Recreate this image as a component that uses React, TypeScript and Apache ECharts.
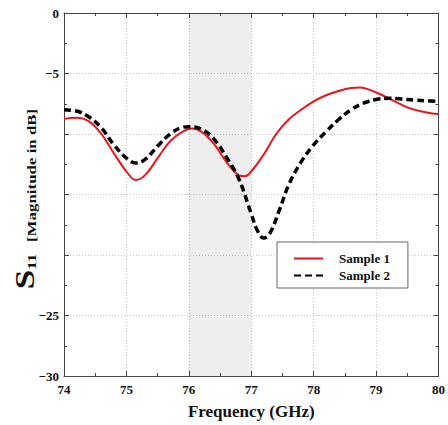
import React, { useEffect, useRef } from "react";
import * as echarts from "echarts";

const freq1 = [74.0, 74.2, 74.4, 74.6, 74.8, 75.0, 75.15, 75.3, 75.5, 75.7, 75.9, 76.05, 76.2, 76.4, 76.6, 76.8, 76.9, 77.0, 77.2, 77.4, 77.6, 77.8, 78.0, 78.2, 78.4, 78.6, 78.75, 78.9, 79.1, 79.3, 79.5, 79.7, 79.9, 80.0];
const sample1 = [-8.75, -8.65, -8.95, -10.0, -11.6, -13.1, -13.8, -13.4, -12.0, -10.6, -9.8, -9.55, -9.8, -10.8, -12.3, -13.4, -13.5, -13.1, -11.7, -10.0, -8.8, -8.0, -7.3, -6.8, -6.45, -6.2, -6.15, -6.35, -6.8, -7.3, -7.8, -8.1, -8.3, -8.35];

const freq2 = [74.0, 74.2, 74.4, 74.6, 74.8, 75.0, 75.15, 75.3, 75.5, 75.7, 75.9, 76.0, 76.2, 76.4, 76.6, 76.8, 77.0, 77.1, 77.2, 77.3, 77.45, 77.6, 77.8, 78.0, 78.2, 78.4, 78.6, 78.8, 79.0, 79.2, 79.4, 79.6, 79.8, 80.0];
const sample2 = [-8.0, -8.1, -8.6, -9.5, -10.9, -12.0, -12.4, -12.1, -11.0, -10.0, -9.45, -9.4, -9.6, -10.4, -11.9, -13.7, -16.6, -18.0, -18.6, -18.2, -16.3, -14.2, -12.3, -10.9, -9.8, -8.8, -8.0, -7.45, -7.15, -7.05, -7.1, -7.2, -7.25, -7.3];

const seriesNames = ["Sample 1", "Sample 2"];
const shadedBand = [76, 77];
const yLabelsShown = [0, -5, -25, -30];

const FONT = "'Liberation Serif', 'Times New Roman', serif";
const AXIS_COLOR = "#444";

export default function App() {
  const ref = useRef<HTMLDivElement>(null);
  useEffect(() => {
    if (!ref.current) return;
    const chart = echarts.init(ref.current, null, { renderer: "svg" });
    const axisCommon = {
      axisLine: { show: true, onZero: false, lineStyle: { color: AXIS_COLOR, width: 1 } },
      axisTick: { show: true, inside: true, length: 5, lineStyle: { color: AXIS_COLOR } },
      minorTick: { show: true, splitNumber: 2, length: 3, lineStyle: { color: AXIS_COLOR } },
    };
    chart.setOption({
      animation: false,
      backgroundColor: "#fff",
      textStyle: { fontFamily: FONT },
      grid: { left: 64, right: 7, top: 13, bottom: 45 },
      legend: {
        orient: "vertical",
        left: 277,
        top: 242,
        data: seriesNames,
        backgroundColor: "#fff",
        borderColor: "#666",
        borderWidth: 1,
        borderRadius: 0,
        padding: [10, 18, 6, 16],
        itemWidth: 29,
        itemHeight: 14,
        itemGap: 4,
        itemStyle: { opacity: 0 },
        textStyle: { fontFamily: FONT, fontWeight: "bold", fontSize: 13, color: "#111", padding: [0, 0, 0, 11] },
      },
      xAxis: [
        {
          type: "value",
          min: 74,
          max: 80,
          interval: 1,
          ...axisCommon,
          axisLabel: { color: "#111", fontFamily: FONT, fontWeight: "bold", fontSize: 13, margin: 7 },
          splitLine: { show: true, lineStyle: { color: "#c8c8c8", type: [1, 2], width: 1 } },
          name: "Frequency (GHz)",
          nameLocation: "middle",
          nameGap: 27,
          nameTextStyle: { color: "#111", fontFamily: FONT, fontWeight: "bold", fontSize: 17 },
        },
        {
          type: "value",
          position: "top",
          min: 74,
          max: 80,
          interval: 1,
          ...axisCommon,
          axisLabel: { show: false },
          splitLine: { show: false },
        },
      ],
      yAxis: [
        {
          type: "value",
          min: -30,
          max: 0,
          interval: 5,
          ...axisCommon,
          axisLabel: {
            color: "#111",
            fontFamily: FONT,
            fontWeight: "bold",
            fontSize: 13,
            margin: 5,
            formatter: (v: number) => (yLabelsShown.includes(v) ? (v < 0 ? "\u2212" + Math.abs(v) : String(v)) : ""),
          },
          splitLine: { show: true, lineStyle: { color: "#c8c8c8", type: [1, 2], width: 1 } },
        },
        {
          type: "value",
          position: "right",
          min: -30,
          max: 0,
          interval: 5,
          ...axisCommon,
          axisLabel: { show: false },
          splitLine: { show: false },
        },
      ],
      graphic: [
        {
          type: "text",
          x: 38,
          y: 199,
          rotation: Math.PI / 2,
          scaleX: 1.3,
          scaleY: 1,
          style: {
            text: "{s|S}{n|11}{t|[Magnitude in dB]}",
            align: "center",
            verticalAlign: "bottom",
            fill: "#111",
            rich: {
              s: { fontFamily: FONT, fontSize: 27, lineHeight: 27, fontWeight: "bold", fill: "#111", verticalAlign: "bottom" },
              n: { fontFamily: FONT, fontSize: 13, lineHeight: 8, fontWeight: "bold", fill: "#111", verticalAlign: "bottom" },
              t: { fontFamily: FONT, fontSize: 13, lineHeight: 9, fontWeight: "bold", fill: "#111", verticalAlign: "bottom", padding: [0, 0, 0, 9] },
            },
          },
        },
      ],
      series: [
        {
          name: seriesNames[0],
          type: "line",
          smooth: 0.4,
          symbol: "none",
          data: freq1.map((f, i) => [f, sample1[i]]),
          lineStyle: { color: "#e8161b", width: 2 },
          itemStyle: { color: "#e8161b" },
          z: 3,
          markArea: {
            silent: true,
            itemStyle: { color: "rgba(0,0,0,0.065)" },
            data: [[{ xAxis: shadedBand[0] }, { xAxis: shadedBand[1] }]],
          },
        },
        {
          name: seriesNames[1],
          type: "line",
          smooth: 0.4,
          symbol: "none",
          data: freq2.map((f, i) => [f, sample2[i]]),
          lineStyle: { color: "#000", width: 3.5, type: [7, 4] },
          itemStyle: { color: "#000" },
          z: 4,
        },
      ],
    });
    return () => chart.dispose();
  }, []);
  return <div ref={ref} style={{ position: "absolute", left: 0, top: 0, width: 448, height: 425 }} />;
}
